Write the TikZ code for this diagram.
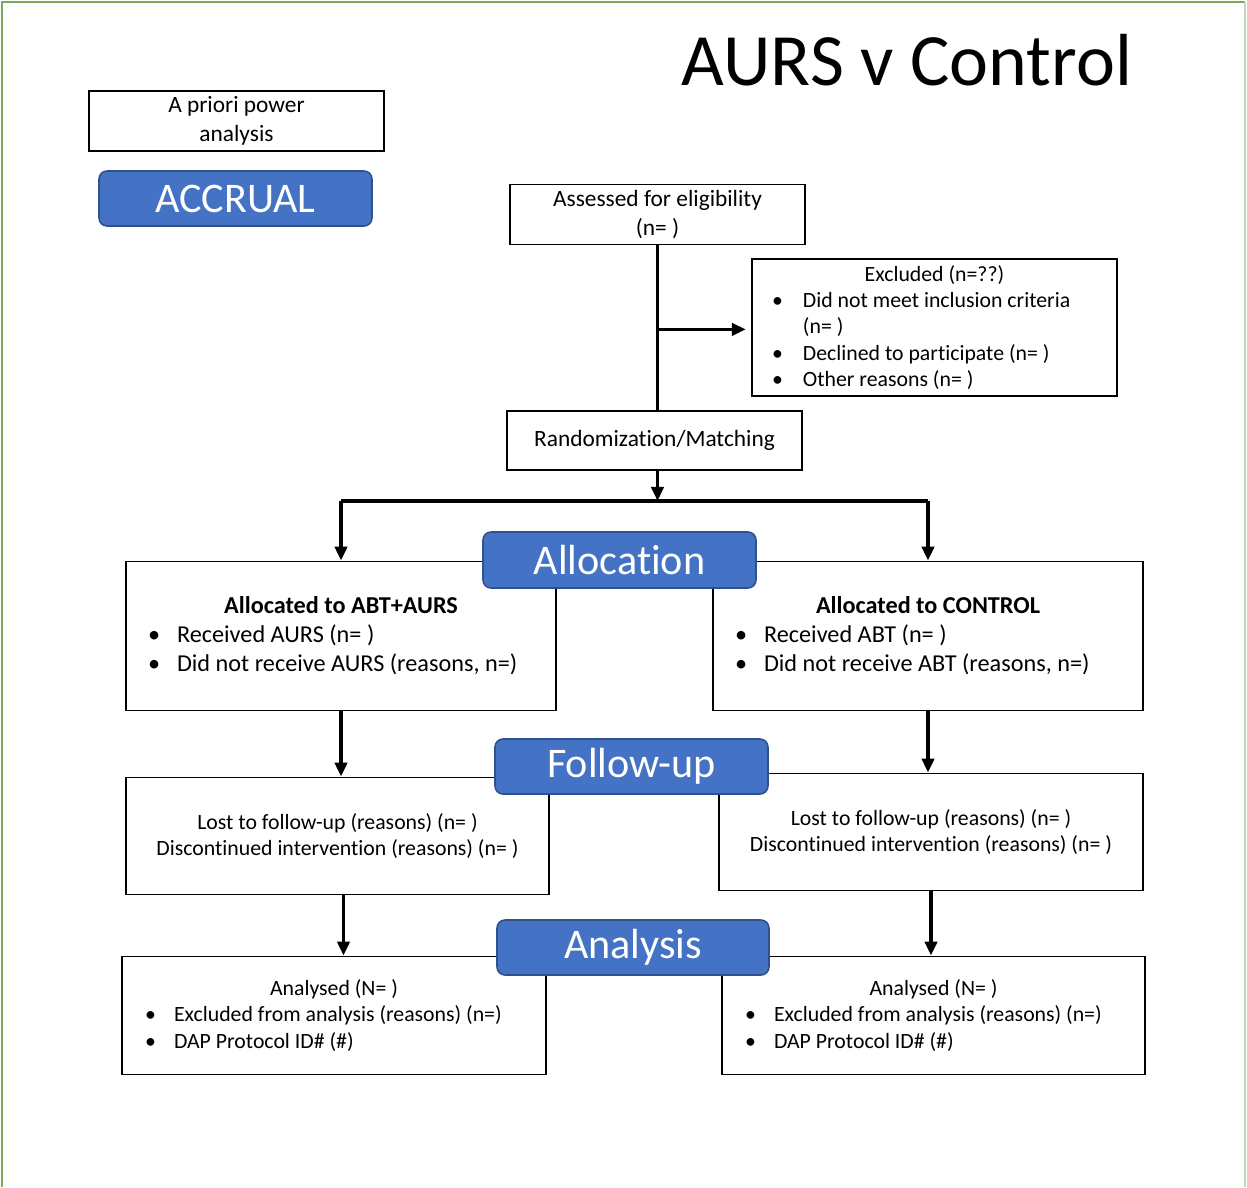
\documentclass[tikz,border=0pt]{standalone}
\usepackage{fontspec}
\setmainfont[Ligatures=NoCommon]{Carlito}
\usetikzlibrary{arrows.meta,calc}
\definecolor{tagblue}{RGB}{68,114,196}
\definecolor{tagedge}{RGB}{47,82,143}
\definecolor{frame}{RGB}{120,172,88}
\newcommand\bul[2][16.5pt]{\makebox[#1][l]{\textbullet}#2}
\begin{document}
\begin{tikzpicture}[x=0.02cm,y=-0.02cm,
    box/.style={draw,line width=1.1pt,inner sep=0pt,font=\fontsize{12.4}{14.9}\selectfont,
      execute at begin node={\spaceskip=0pt\xspaceskip=0pt\relax}},
    tag/.style={draw=tagedge,fill=tagblue,line width=0.9pt,rounded corners=0.16cm,text=white,
      minimum width=5.46cm,minimum height=1.1cm,inner sep=0pt,font=\fontsize{24}{28}\selectfont},
    flow/.style={line width=2pt,-{Triangle[length=8pt,width=7pt]}}]
    \useasboundingbox (0,0) rectangle (1247,1187);
    \draw[frame,line width=1.6pt] (2,1187) -- (2,2) -- (1245,2);
    \draw[frame!45,line width=1.2pt] (1245,2) -- (1245,1187);

    \node (title) at (907,60) {\fontsize{42}{50}\selectfont AURS v Control};
    \node[box,minimum width=5.9cm,minimum height=1.2cm,align=center,font=\fontsize{13.3}{16.5}\selectfont] (prior) at (236.5,121) {A priori power\\analysis};
    \node[tag] (accrual) at (235.5,198.5) {ACCRUAL};

    \node[box,minimum width=5.9cm,minimum height=1.2cm,align=center,font=\fontsize{13.3}{16.5}\selectfont] (assess) at (657.5,214.5) {Assessed for eligibility\\(n= )};
    \node[box,minimum width=7.3cm,minimum height=2.74cm,text width=6.5cm,align=left] (excl) at (934.5,327.5)
      {\makebox[\linewidth]{Excluded (n=??)}\\ \bul[17.6pt]{Did not meet inclusion criteria}\\ \hspace*{17.6pt}(n= )\\
       \bul[17.6pt]{Declined to participate (n= )}\\ \bul[17.6pt]{Other reasons (n= )}};
    \node[box,minimum width=5.9cm,minimum height=1.18cm,font=\fontsize{13.3}{16.5}\selectfont] (rand) at (654.5,440.5) {Randomization/Matching};

    \node[box,minimum width=8.6cm,minimum height=2.98cm,text width=7.72cm,align=left,font=\fontsize{13.8}{16.5}\selectfont] (allocL) at (341,636)
      {\makebox[\linewidth]{\bfseries Allocated to ABT+AURS}\\ \bul{Received AURS (n= )}\\ \bul{Did not receive AURS (reasons, n=)}};
    \node[box,minimum width=8.6cm,minimum height=2.98cm,text width=7.72cm,align=left,font=\fontsize{13.8}{16.5}\selectfont] (allocR) at (928,636)
      {\makebox[\linewidth]{\bfseries Allocated to CONTROL}\\ \bul{Received ABT (n= )}\\ \bul{Did not receive ABT (reasons, n=)}};

    \node[box,minimum width=8.46cm,minimum height=2.34cm,align=center] (followL) at (337.5,836)
      {Lost to follow-up (reasons) (n= )\\Discontinued intervention (reasons) (n= )};
    \node[box,minimum width=8.48cm,minimum height=2.34cm,align=center] (followR) at (931,832)
      {Lost to follow-up (reasons) (n= )\\Discontinued intervention (reasons) (n= )};

    \node[box,minimum width=8.48cm,minimum height=2.36cm,text width=7.56cm,align=left] (anaL) at (334,1015.5)
      {\makebox[\linewidth]{Analysed (N= )}\\ \bul{Excluded from analysis (reasons) (n=)}\\ \bul{DAP Protocol ID\# (\#)}};
    \node[box,minimum width=8.46cm,minimum height=2.36cm,text width=7.54cm,align=left] (anaR) at (933.5,1015.5)
      {\makebox[\linewidth]{Analysed (N= )}\\ \bul{Excluded from analysis (reasons) (n=)}\\ \bul{DAP Protocol ID\# (\#)}};

    \node[tag,minimum height=1.12cm] (allocation) at (619.5,560) {Allocation};
    \node[tag] (followup) at (631.5,766.5) {Follow-up};
    \node[tag,minimum width=5.44cm] (analysis) at (633,947.5) {Analysis};

    \coordinate (branch) at ($(assess.south)!0.51!(assess.south |- rand.north)$);
    \coordinate (bar) at ($(rand.south)+(0,30)$);
    \draw[line width=2pt] (assess.south) -- (assess.south |- rand.north);
    \draw[flow] (branch) -- ([xshift=-3pt]branch -| excl.west);
    \draw[flow] (assess.south |- rand.south) -- (assess.south |- bar);
    \draw[line width=2pt] (bar -| allocL.north) -- (bar -| allocR.north);
    \draw[flow] (bar -| allocL.north) -- (allocL.north);
    \draw[flow] (bar -| allocR.north) -- (allocR.north);
    \draw[flow] (allocL.south) -- (allocL.south |- followL.north);
    \draw[flow] (allocR.south) -- (allocR.south |- followR.north);
    \draw[flow] ([xshift=0.12cm]followL.south) -- ([xshift=0.12cm]followL.south |- anaL.north);
    \draw[flow] (followR.south) -- (followR.south |- anaR.north);
\end{tikzpicture}
\end{document}
